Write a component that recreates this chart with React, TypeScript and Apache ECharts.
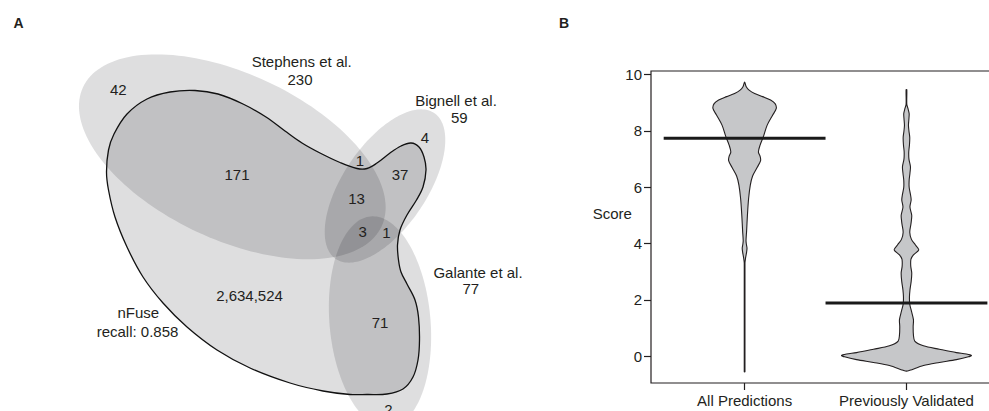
import React, { useEffect, useRef } from "react";
import * as echarts from "echarts";

// ---------------- Panel B: violin data ----------------
const scoreCategories = ["All Predictions", "Previously Validated"];
const scoreTicks = [0, 2, 4, 6, 8, 10];
const medianScores = [7.74, 1.89];

const allPredScores = [-0.55, 3.3, 3.5, 3.7, 3.84, 3.97, 4.1, 4.45, 5.0, 5.6, 6.08, 6.4, 6.7, 6.95, 7.1, 7.25, 7.5, 7.79, 8.2, 8.56, 8.8, 8.97, 9.1, 9.22, 9.33, 9.45, 9.58, 9.74];
const allPredDensity = [0.35, 0.35, 1.0, 2.0, 2.4, 1.8, 1.4, 2.0, 2.8, 4.0, 5.7, 8.0, 12.5, 16.0, 15.5, 13.8, 15.5, 18.7, 22.5, 28, 31.7, 30.5, 26, 18, 10, 4.5, 1.5, 0];

const prevValScores = [-0.53, -0.5, -0.33, -0.22, -0.12, -0.02, 0.03, 0.08, 0.13, 0.25, 0.37, 0.54, 0.75, 1.05, 1.3, 1.6, 1.85, 2.1, 2.35, 2.65, 2.95, 3.2, 3.45, 3.6, 3.78, 3.95, 4.15, 4.4, 4.7, 5.0, 5.3, 5.55, 5.75, 6.0, 6.25, 6.5, 6.73, 7.0, 7.26, 7.5, 7.77, 8.0, 8.2, 8.45, 8.62, 8.8, 8.95, 9.47];
const prevValDensity = [0, 3.3, 17, 33, 50, 62, 65, 60, 50, 33, 17, 8.3, 7, 6.7, 7, 5, 3.3, 3, 3.5, 4.7, 5.3, 4.3, 4.5, 7, 12.3, 9, 5, 3.3, 4.5, 5.3, 3.5, 4.7, 4, 2.7, 2.7, 3.5, 4, 2.5, 2.3, 3, 3.3, 2.5, 2, 2.5, 2.7, 1.5, 0.35, 0.35];

// ---------------- Panel A: Euler diagram data ----------------
const setLabels = ["Stephens et al.", "Bignell et al.", "Galante et al."];
const setTotals = [230, 59, 77];
const regionCounts = ["42", "171", "1", "13", "37", "4", "3", "1", "71", "2", "2,634,524"];
const nFuseLabel = ["nFuse", "recall: 0.858"];

// geometry (panel-A coordinate space)
const setEllipses = [
  [232.3, 156.8, 164.7, 82.9, 25],
  [385, 186, 88, 42, -56],
  [380, 322, 50.5, 106, -5],
];
const nFuseOutline = [
  [106.5, 172], [108.5, 150], [114, 134], [127, 114], [147, 99], [170, 92], [195, 90.5], [218, 94],
  [243, 104], [266, 117], [285, 131], [302, 143], [320, 153], [340, 162.5], [357, 168.5], [367, 168.5],
  [377, 163], [390, 153], [401, 146], [411, 143], [419, 147], [424, 157], [426, 170], [423, 187],
  [416.5, 200], [407, 215], [400, 230], [397.5, 245], [398.5, 260], [401, 272], [407, 284], [415, 300],
  [418.5, 317], [419.5, 340], [418, 360], [413, 377], [403, 389], [387, 394], [367, 394.5], [350, 394.5],
  [323, 391], [290, 383], [250, 368], [217, 350], [187, 327], [163, 303], [143, 277], [127, 247],
  [115, 217], [108.5, 190],
];
const setLabelPos = [[301.7, 61], [456, 100], [478, 272.3]];
const setTotalPos = [[300, 79], [459.3, 117.3], [470.8, 288.5]];
const regionLabelPos = [
  [118.3, 89], [237, 174], [360, 160], [356.5, 198.3], [400, 174], [425, 137],
  [362.7, 231], [386.5, 232.3], [380, 322.3], [388.3, 409], [249.5, 295.7],
];
const nFuseLabelPos = [[138.3, 312.3], [137.5, 331]];

const FONT = '"Liberation Sans", Arial, Helvetica, sans-serif';
const INK = "#231f20";
const SHADE = "rgba(8,10,18,0.133)";
const violinWidthScale = 1 / 162;

const violinProfiles = [
  { scores: allPredScores, density: allPredDensity },
  { scores: prevValScores, density: prevValDensity },
];

const vennTexts = [
  ...setLabels.map((t, i) => ({ text: t, pos: setLabelPos[i] })),
  ...setTotals.map((t, i) => ({ text: String(t), pos: setTotalPos[i] })),
  ...regionCounts.map((t, i) => ({ text: t, pos: regionLabelPos[i] })),
  ...nFuseLabel.map((t, i) => ({ text: t, pos: nFuseLabelPos[i] })),
];

function textStyle(text: string, size: number, weight = "normal") {
  return {
    text,
    fill: INK,
    font: `${weight} ${size}px ${FONT}`,
    align: "center",
    verticalAlign: "middle",
    textAlign: "center",
    textVerticalAlign: "middle",
  };
}

export default function App() {
  const ref = useRef<HTMLDivElement>(null);

  useEffect(() => {
    if (!ref.current) return;
    const chart = echarts.init(ref.current, undefined, { renderer: "svg" });

    const option: any = {
      animation: false,
      backgroundColor: "#ffffff",
      grid: [
        { left: 0, top: 0, width: 500, height: 411, show: false, outerBoundsMode: "none", containLabel: false },
        {
          left: 651, top: 71, width: 349, height: 312, show: true,
          borderColor: INK, borderWidth: 1.2, backgroundColor: "transparent",
          outerBoundsMode: "none", containLabel: false,
        },
      ],
      xAxis: [
        { gridIndex: 0, type: "value", min: 0, max: 500, show: false },
        {
          gridIndex: 1, type: "value", min: 0.4216, max: 2.578,
          axisLine: { show: false, onZero: false },
          axisTick: { show: true, customValues: [1, 2], length: 7, lineStyle: { color: INK, width: 1.2 } },
          axisLabel: {
            show: true, customValues: [1, 2], margin: 10, fontSize: 15, color: INK, fontFamily: FONT,
            formatter: (v: number) => scoreCategories[Math.round(v) - 1] ?? "",
          },
          splitLine: { show: false },
        },
      ],
      yAxis: [
        { gridIndex: 0, type: "value", min: 0, max: 411, inverse: true, show: false },
        {
          gridIndex: 1, type: "value", min: -0.95, max: 10.13,
          axisLine: { show: false, onZero: false },
          axisTick: { show: true, customValues: scoreTicks, length: 7, lineStyle: { color: INK, width: 1.2 } },
          axisLabel: { show: true, customValues: scoreTicks, margin: 9, fontSize: 15, color: INK, fontFamily: FONT },
          splitLine: { show: false },
        },
      ],
      series: [
        // set ellipses
        {
          type: "custom", xAxisIndex: 0, yAxisIndex: 0, clip: false, silent: true,
          data: setEllipses.map((e) => [e[0], e[1]]),
          renderItem: (params: any, api: any) => {
            const [cx, cy, rx, ry, rot] = setEllipses[params.dataIndex];
            const r = (rot * Math.PI) / 180;
            const pts: number[][] = [];
            const n = 160;
            for (let k = 0; k < n; k++) {
              const t = (k / n) * Math.PI * 2;
              const u = rx * Math.cos(t);
              const v = ry * Math.sin(t);
              pts.push(api.coord([cx + u * Math.cos(r) - v * Math.sin(r), cy + u * Math.sin(r) + v * Math.cos(r)]));
            }
            return { type: "polygon", shape: { points: pts }, style: { fill: SHADE } };
          },
        },
        // nFuse blob
        {
          type: "custom", xAxisIndex: 0, yAxisIndex: 0, clip: false, silent: true,
          data: [nFuseOutline[0]],
          renderItem: (_params: any, api: any) => {
            const pts = nFuseOutline.map((p) => api.coord(p));
            return {
              type: "polygon",
              shape: { points: pts, smooth: 0.35 },
              style: { fill: SHADE, stroke: "#111111", lineWidth: 1.3 },
            };
          },
        },
        // Venn texts
        {
          type: "custom", xAxisIndex: 0, yAxisIndex: 0, clip: false, silent: true, z: 5,
          data: vennTexts.map((d) => d.pos),
          renderItem: (params: any, api: any) => {
            const item = vennTexts[params.dataIndex];
            const p = api.coord(item.pos);
            return { type: "text", x: p[0], y: p[1], style: textStyle(item.text, 15) };
          },
        },
        // violins
        {
          type: "custom", xAxisIndex: 1, yAxisIndex: 1, clip: false, silent: true,
          data: [[1, medianScores[0]], [2, medianScores[1]]],
          renderItem: (params: any, api: any) => {
            const center = api.value(0);
            const prof = violinProfiles[params.dataIndex];
            const right = prof.scores.map((s, k) => api.coord([center + prof.density[k] * violinWidthScale, s]));
            const left: number[][] = [];
            for (let k = prof.scores.length - 1; k >= 0; k--) {
              if (prof.density[k] > 0) left.push(api.coord([center - prof.density[k] * violinWidthScale, prof.scores[k]]));
            }
            return {
              type: "polygon",
              shape: { points: [...right, ...left], smooth: 0.3 },
              style: { fill: "#c6c7c9", stroke: INK, lineWidth: 1.1 },
            };
          },
        },
        // medians
        {
          type: "custom", xAxisIndex: 1, yAxisIndex: 1, clip: false, silent: true, z: 4,
          data: [[1, medianScores[0]], [2, medianScores[1]]],
          renderItem: (_params: any, api: any) => {
            const c = api.value(0);
            const y = api.value(1);
            const p1 = api.coord([c - 0.5, y]);
            const p2 = api.coord([c + 0.5, y]);
            return {
              type: "line",
              shape: { x1: p1[0], y1: p1[1], x2: p2[0], y2: p2[1] },
              style: { stroke: "#1a1a1a", lineWidth: 3 },
            };
          },
        },
      ],
      graphic: [
        { type: "text", x: 18.5, y: 23, style: textStyle("A", 14, "bold") },
        { type: "text", x: 564, y: 22.5, style: textStyle("B", 14, "bold") },
        { type: "text", x: 612.3, y: 213.3, style: textStyle("Score", 15) },
      ],
    };

    chart.setOption(option);
    return () => chart.dispose();
  }, []);

  return (
    <div
      ref={ref}
      style={{ position: "absolute", left: 0, top: 0, width: 989, height: 411, background: "#fff" }}
    />
  );
}
